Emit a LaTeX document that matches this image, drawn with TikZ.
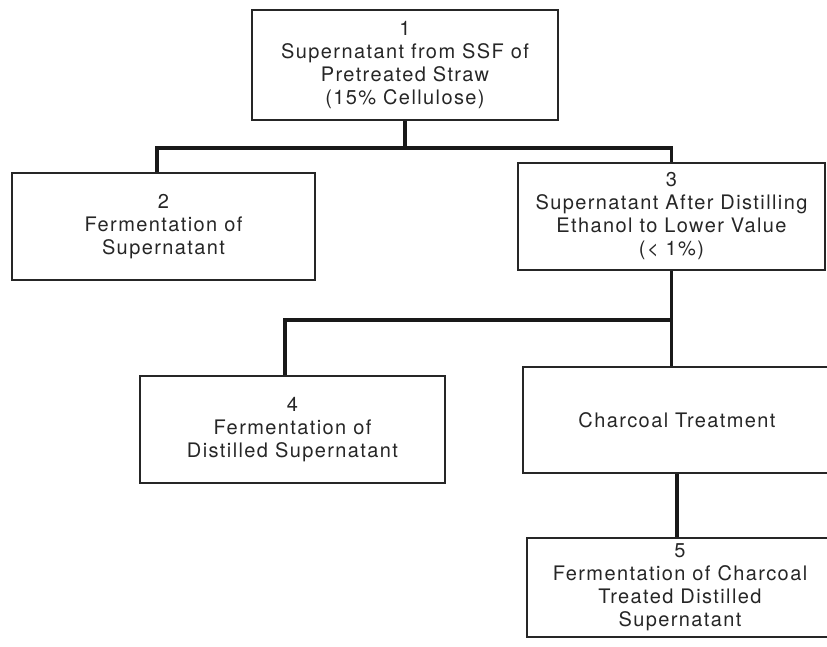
\documentclass[tikz,border=0pt]{standalone}
\usepackage{fontspec}
\setmainfont[LetterSpace=7]{TeX Gyre Heros}
\begin{document}
\begin{tikzpicture}[x=1pt,y=-1pt,
  box/.style={draw=black!85, line width=1.1pt, inner sep=0pt, align=center,
    font=\fontsize{20}{23}\selectfont, text=black!85},
  conn/.style={draw=black!90, line width=3.2pt, line join=miter}]
\useasboundingbox (0,0) rectangle (827,646);
\node[box, minimum width=306pt, minimum height=110pt] (b1) at (405,65)
  {1\\Supernatant from SSF of\\Pretreated Straw\\(15\% Cellulose)};
\node[box, minimum width=303pt, minimum height=107pt] (b2) at (163.5,226.5)
  {2\\Fermentation of\\Supernatant};
\node[box, minimum width=307pt, minimum height=107pt] (b3) at (671.5,216.5)
  {3\\Supernatant After Distilling\\Ethanol to Lower Value\\(< 1\%)};
\node[box, minimum width=305pt, minimum height=107pt] (b4) at (292.5,429.5)
  {4\\Fermentation of\\Distilled Supernatant};
\node[box, minimum width=308pt, minimum height=106pt] (ct) at (677,420)
  {Charcoal Treatment};
\node[box, minimum width=306pt, minimum height=99pt] (b5) at (680,587.5)
  {5\\Fermentation of Charcoal\\Treated Distilled\\Supernatant};
\coordinate (l2) at (157,148);
\coordinate (l4) at (285,320);
\draw[conn] (b1.south) -- (b1.south |- l2);
\draw[conn] (b2.north -| l2) -- (l2) -- (b3.north |- l2) -- (b3.north);
\draw[conn] (b3.south) -- (b3.south |- l4);
\draw[conn] (b4.north -| l4) -- (l4) -- (b3.south |- l4) -- (ct.north -| b3.south);
\draw[conn] (ct.south) -- (ct.south |- b5.north);
\end{tikzpicture}
\end{document}
